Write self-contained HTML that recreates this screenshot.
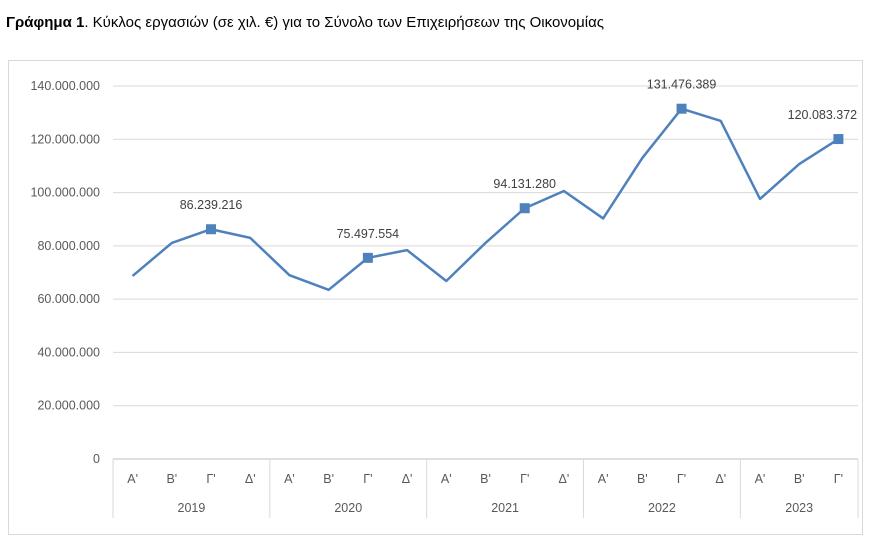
<!DOCTYPE html>
<html><head><meta charset="utf-8"><style>
body{margin:0;background:#fff;width:872px;height:540px;overflow:hidden;font-family:"Liberation Sans","DejaVu Sans",sans-serif}
</style></head><body>
<div style="position:absolute;left:6px;top:14px;font-size:15px;color:#000"><b>Γράφημα 1</b>. Κύκλος εργασιών (σε χιλ. €) για το Σύνολο των Επιχειρήσεων της Οικονομίας</div>
<svg id="c" width="872" height="540" style="position:absolute;left:0;top:0"></svg>
<script>
const years=["2019","2020","2021","2022","2023"];
const quarters=["Α'","Β'","Γ'","Δ'","Α'","Β'","Γ'","Δ'","Α'","Β'","Γ'","Δ'","Α'","Β'","Γ'","Δ'","Α'","Β'","Γ'"];
const values=[68.7,81.1,86.239216,83.0,69.0,63.5,75.497554,78.4,66.8,81.1,94.131280,100.6,90.3,113.0,131.476389,126.9,97.6,110.7,120.083372];
const labeled=[2,6,10,14,18];
const yTicks=[0,20,40,60,80,100,120,140];
const yTickLabels=["0","20.000.000","40.000.000","60.000.000","80.000.000","100.000.000","120.000.000","140.000.000"];
const svg=document.getElementById('c');const NS="http://www.w3.org/2000/svg";
function mk(t,a,p){const e=document.createElementNS(NS,t);for(const k in a)e.setAttribute(k,a[k]);(p||svg).appendChild(e);return e;}
const x0=113,x1=858,y0=459,yTop=86,n=quarters.length,bw=(x1-x0)/n;
const X=i=>x0+bw*(i+0.5);const Y=v=>y0-(v/140)*(y0-yTop);
let b=mk('rect',{x:8.5,y:60.5,width:854,height:474,fill:'none',stroke:'#d9d9d9'});

yTicks.forEach((t,i)=>{
 let g=mk('line',{x1:x0,x2:x1,y1:Y(t),y2:Y(t),stroke:i==0?'#bfbfbf':'#d9d9d9'});
 
 let l=mk('text',{x:100,y:Y(t)+4,'text-anchor':'end','font-size':12.5,fill:'#595959'});l.textContent=yTickLabels[i];
 
});
quarters.forEach((q,i)=>{let t=mk('text',{x:X(i),y:483,'text-anchor':'middle','font-size':12.5,fill:'#595959'});t.textContent=q;
 });
for(let k=0;k<=years.length;k++){const idx=Math.min(k*4,n);const xx=x0+bw*idx;
 let s=mk('line',{x1:xx,x2:xx,y1:y0,y2:518,stroke:'#d9d9d9'});}
years.forEach((y,k)=>{const a=k*4,e=Math.min(a+4,n);const t=mk('text',{x:x0+bw*(a+e)/2,y:512,'text-anchor':'middle','font-size':12.5,fill:'#595959'});t.textContent=y;
 });
const p=mk('polyline',{points:values.map((v,i)=>X(i)+','+Y(v)).join(' '),fill:'none',stroke:'#4f81bd','stroke-width':2.5,'stroke-linejoin':'round'});

labeled.forEach((i,k)=>{const m=mk('rect',{x:X(i)-5,y:Y(values[i])-5,width:10,height:10,fill:'#4f81bd'});
 
 const off=(k==labeled.length-1)?-16:0;
 const t=mk('text',{x:X(i)+off,y:Y(values[i])-20,'text-anchor':'middle','font-size':12.5,fill:'#404040'});
 t.textContent=Math.round(values[i]*1e6).toString().replace(/\B(?=(\d{3})+(?!\d))/g,'.');
 });
</script>
</body></html>
